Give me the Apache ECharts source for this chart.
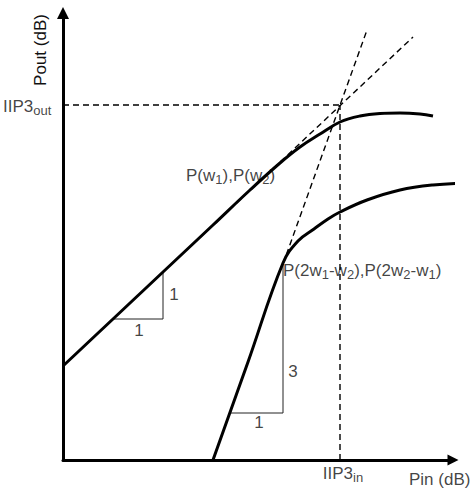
<!DOCTYPE html>
<html><head><meta charset="utf-8">
<script src="https://cdn.jsdelivr.net/npm/echarts@6/dist/echarts.min.js"></script>
<style>html,body{margin:0;padding:0;background:#fff}#c{width:474px;height:488px}</style>
</head><body><div id="c"></div>
<script>
// Pin (x) / Pout (y) in arbitrary dB units
const fundamental = [[0,9.4],[5,14.1],[10,18.8],[15,23.5],[18.7,27.0],[21.7,29.7],[23.7,31.3],[25.7,32.6],[27.7,33.8],[29.7,34.4],[31.7,34.65],[33.7,34.7],[35.7,34.6],[37.0,34.4]];
const fundamentalAsymptote = [[13,21.6],[35,42.3]];
const im3 = [[15,0],[18.5,9.8],[22.0,19.7],[23.5,21.9],[25.1,23.1],[26.5,24.1],[27.7,24.8],[30.4,26.0],[33.7,27.0],[37.0,27.5],[40.4,27.7]];
const im3Asymptote = [[22.0,19.6],[30.4,43.0]];
const iip3In = 27.7;
const iip3Out = 35.5;
const slopeTriangle1 = [[5.0,14.1],[10,14.1],[10,18.8]];
const slopeTriangle3 = [[16.7,4.7],[22.0,4.7],[22.0,19.7]];
const labelTexts = ['{b|IIP3}{s|out}','{b|Pin (dB)}','{b|IIP3}{s|in}','{b|P(w}{s|1}{b|),P(w}{s|2}{b|)}','{b|P(2w}{s|1}{b|-w}{s|2}{b|),P(2w}{s|2}{b|-w}{s|1}{b|)}','{b|1}','{b|1}','{b|3}','{b|1}'];
const labelAnchors = [[-6.0,35.4],[34.6,-1.9],[28.0,-1.3],[12.3,28.5],[22.0,19.0],[11.1,16.6],[7.6,13.0],[23.0,8.9],[19.6,3.8]];
const labelAlign = ['left','left','center','left','left','center','center','center','center'];
const yTitle = 'Pout (dB)';
const yTitleAnchor = [-2.3,41.0];

const chart = echarts.init(document.getElementById('c'), null, {renderer:'svg'});
const rich = {
  b:{fontFamily:'Liberation Sans',fontSize:17,lineHeight:17,color:'#111',verticalAlign:'top'},
  s:{fontFamily:'Liberation Sans',fontSize:13,lineHeight:13,color:'#111',padding:[8,0,0,0]}
};
const solid = {type:'line',showSymbol:false,symbol:'none',clip:false,silent:true,smooth:0.4,lineStyle:{color:'#000',width:3}};
const dashed = {type:'line',showSymbol:false,symbol:'none',clip:false,silent:true,lineStyle:{color:'#000',width:1.4,type:[6,4]}};
const thin = {type:'line',showSymbol:false,symbol:'none',clip:false,silent:true,lineStyle:{color:'#222',width:1}};
const noAxis = {axisTick:{show:false},axisLabel:{show:false},splitLine:{show:false}};
chart.setOption({
  animation:false,
  backgroundColor:'#fff',
  grid:{left:63,right:21,top:13,bottom:28},
  xAxis:Object.assign({type:'value',min:0,max:39.0,axisLine:{lineStyle:{color:'#000',width:3},symbol:['none','triangle'],symbolSize:[11,11]}},noAxis),
  yAxis:Object.assign({type:'value',min:0,max:44.7,axisLine:{lineStyle:{color:'#000',width:3},symbol:['none','triangle'],symbolSize:[12,12]}},noAxis),
  series:[
    Object.assign({data:[[0,iip3Out],[iip3In,iip3Out]]},dashed),
    Object.assign({data:[[iip3In,0],[iip3In,iip3Out]]},dashed),
    Object.assign({data:fundamentalAsymptote},dashed),
    Object.assign({data:im3Asymptote},dashed),
    Object.assign({data:slopeTriangle1},thin),
    Object.assign({data:slopeTriangle3},thin),
    Object.assign({data:fundamental},solid),
    Object.assign({data:im3},solid),
    {type:'scatter',symbolSize:0,clip:false,silent:true,
     data:labelAnchors.map((p,i)=>({value:p,label:{show:true,position:'inside',align:labelAlign[i],verticalAlign:'middle',formatter:labelTexts[i],rich:rich}}))}
  ]
});
const tp = chart.convertToPixel({gridIndex:0}, yTitleAnchor);
chart.setOption({graphic:[{type:'text',x:tp[0],y:tp[1],rotation:Math.PI/2,silent:true,
  style:{text:yTitle,fontFamily:'Liberation Sans',fontSize:17,fill:'#111',align:'center',verticalAlign:'middle'}}]});
</script></body></html>
